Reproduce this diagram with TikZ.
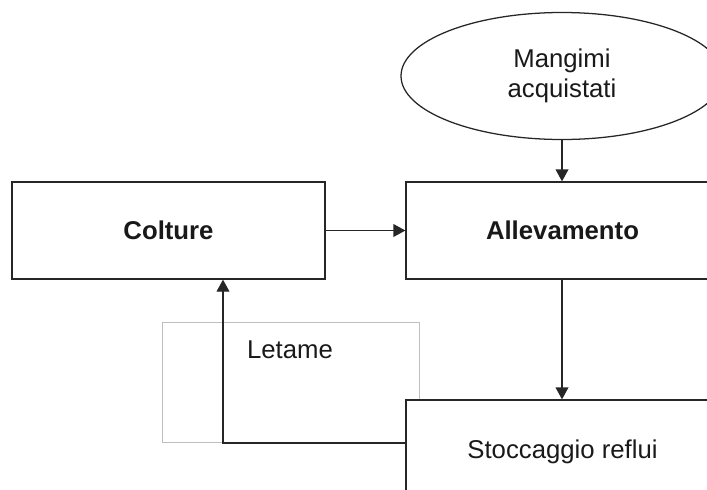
\documentclass[tikz,border=0pt]{standalone}
\usepackage{fontspec}
\setmainfont{Liberation Sans}
\usetikzlibrary{arrows.meta, shapes.geometric, calc}

\begin{document}
\begin{tikzpicture}[
    block/.style={draw=black!85, fill=white, line width=0.9pt, minimum width=7.825cm, minimum height=2.425cm, inner sep=0pt, align=center, text=black!90, font=\fontsize{18.3}{21.3}\selectfont},
    source/.style={block, ellipse, minimum width=8.05cm, minimum height=3.175cm},
    frame/.style={draw=black!25, line width=0.6pt, minimum width=6.425cm, minimum height=3cm, inner sep=0pt},
    arrow/.style={-{Triangle[length=3mm, width=3.2mm]}, line width=0.9pt, draw=black!85}
]
    \useasboundingbox (0,0) rectangle (17.675,12.225);
    \clip (0,0) rectangle (17.675,12.225);

    % Manure store group (grey frame behind the return line)
    \node[frame] (letame) at (7.2625,2.675) {};
    \node[text=black!90, font=\fontsize{18.3}{21.3}\selectfont] (letamelabel) at (7.25,3.475) {Letame};

    % Farm units
    \node[block] (colture) at (4.2125,6.4625) {\bfseries Colture};
    \node[block] (allev) at (14.0625,6.4625) {\bfseries Allevamento};
    \node[source] (mangimi) at (14.05,10.325) {Mangimi\\acquistati};
    \node[block, minimum height=2.6cm] (stocc) at (14.0625,0.925) {Stoccaggio reflui};

    % Flows
    \draw[arrow] (mangimi.south) -- (mangimi.south |- allev.north);
    \draw[arrow] (colture.east) -- (allev.west);
    \draw[arrow] (allev.south -| mangimi.south) -- (stocc.north -| mangimi.south);

    \coordinate (elbow) at (5.575,1.15);
    \draw[arrow] (stocc.west |- elbow) -- (elbow) -- (elbow |- colture.south);
\end{tikzpicture}
\end{document}
